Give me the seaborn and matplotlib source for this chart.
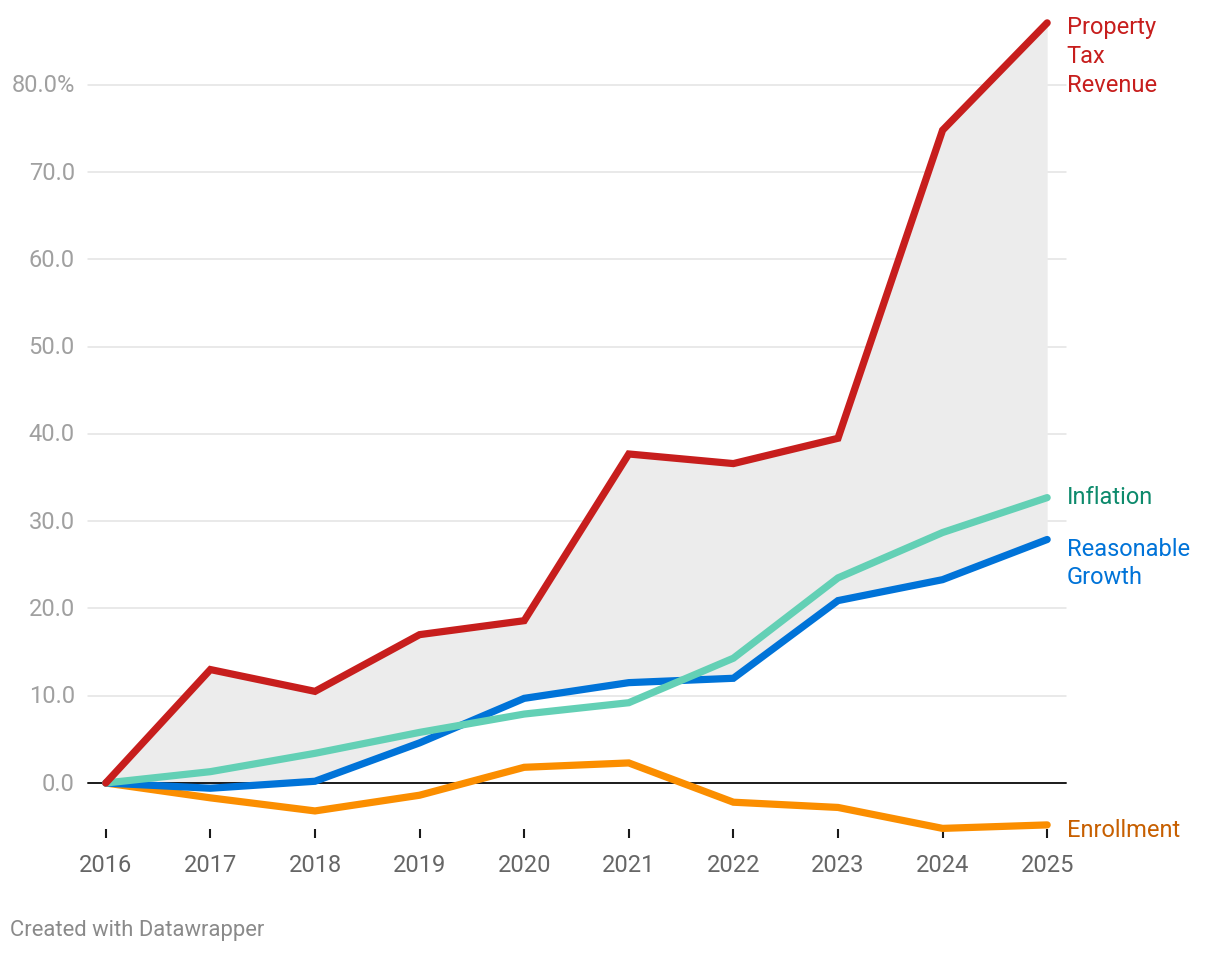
import matplotlib
matplotlib.use('Agg')
import matplotlib.pyplot as plt
import seaborn as sns
import pandas as pd

# Values (cumulative % change since 2016)
years = [2016, 2017, 2018, 2019, 2020, 2021, 2022, 2023, 2024, 2025]
property_tax = [0.0, 13.0, 10.5, 17.0, 18.6, 37.7, 36.6, 39.5, 74.8, 87.1]
inflation = [0.0, 1.3, 3.4, 5.8, 7.9, 9.2, 14.3, 23.5, 28.7, 32.7]
reasonable_growth = [0.0, -0.6, 0.2, 4.6, 9.7, 11.5, 12.0, 20.9, 23.3, 27.9]
enrollment = [0.0, -1.7, -3.2, -1.4, 1.8, 2.3, -2.2, -2.8, -5.2, -4.8]

series_names = ['Property Tax Revenue', 'Inflation', 'Reasonable Growth', 'Enrollment']
series_labels = ['Property\nTax\nRevenue', 'Inflation', 'Reasonable\nGrowth', 'Enrollment']
line_colors = ['#c71e1d', '#63d0b5', '#0073d8', '#fb8e00']
label_colors = ['#c71e1d', '#0d8a6c', '#0073d8', '#c75f00']
y_ticks = [0, 10, 20, 30, 40, 50, 60, 70, 80]
y_ticklabels = ['0.0', '10.0', '20.0', '30.0', '40.0', '50.0', '60.0', '70.0', '80.0%']

df = pd.DataFrame({
    'year': years * 4,
    'value': property_tax + inflation + reasonable_growth + enrollment,
    'series': sum([[n] * len(years) for n in series_names], []),
})

sns.set_style('white')
plt.rcParams['font.family'] = ['Roboto', 'DejaVu Sans']

fig = plt.figure(figsize=(12.2, 9.54), dpi=100)
W, H = 1220, 954
# axes placed in pixel terms: x 88..1066, y 16..830
ax = fig.add_axes([88 / W, 1 - 830 / H, (1066 - 88) / W, (830 - 16) / H])

ax.fill_between(years, property_tax, reasonable_growth, color='#ececec', lw=0, zorder=1)

for y in y_ticks:
    if y != 0:
        ax.axhline(y, color='#e3e3e3', lw=1.1, zorder=0)
ax.axhline(0, color='#1a1a1a', lw=1.4, zorder=2)

sns.lineplot(data=df, x='year', y='value', hue='series', hue_order=series_names[::-1],
             palette=dict(zip(series_names, line_colors)), lw=5.2, legend=False, ax=ax,
             zorder=3)
for ln in ax.get_lines():
    ln.set_solid_capstyle('round')
    ln.set_solid_joinstyle('miter')
    ln.set_clip_on(False)

ax.set_xlim(2015.83, 2025.18)
ax.set_ylim(-5.27, 88.0)

ax.set_yticks(y_ticks)
ax.set_yticklabels(y_ticklabels)
ax.set_xticks(years)
ax.set_xticklabels([str(y) for y in years])
ax.tick_params(axis='y', length=0, pad=9.5, labelsize=17, labelcolor='#a0a0a0')
ax.tick_params(axis='x', length=6.5, width=1.5, color='#1a1a1a', direction='out',
               pad=11, labelsize=17, labelcolor='#666666', bottom=True)
for t in ax.get_yticklabels():
    t.set_verticalalignment('center')
for s in ax.spines.values():
    s.set_visible(False)
ax.set_xlabel('')
ax.set_ylabel('')

# End labels
end_vals = [property_tax[-1], inflation[-1], reasonable_growth[-1], enrollment[-1]]
offsets = [(14, 5.5), (14, 0.5), (14, 2), (14, -3)]
vas = ['top', 'center', 'top', 'center']
for lab, col, v, off, va in zip(series_labels, label_colors, end_vals, offsets, vas):
    ax.annotate(lab, xy=(years[-1], v), xytext=off, textcoords='offset points',
                ha='left', va=va, color=col, fontsize=17, linespacing=1.32,
                annotation_clip=False)

fig.text(10 / W, 1 - 931 / H, 'Created with Datawrapper', color='#8a8a8a',
         fontsize=15.8, ha='left', va='center')

fig.savefig('out.png', dpi=100, facecolor='white')
